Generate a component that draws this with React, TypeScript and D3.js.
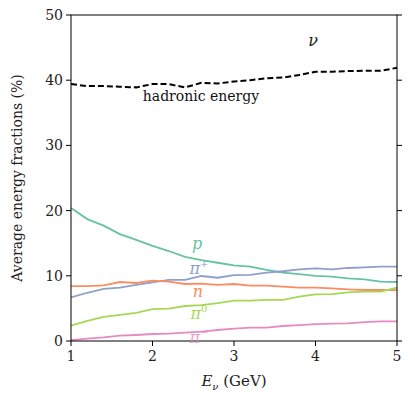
import React from 'react'
import * as d3 from 'd3'

const energies = [1, 1.2, 1.4, 1.6, 1.8, 2, 2.2, 2.4, 2.6, 2.8, 3, 3.2, 3.4, 3.6, 3.8, 4, 4.2, 4.4, 4.6, 4.8, 5]

const hadronic = [39.4, 39.1, 39.1, 39.0, 38.9, 39.4, 39.4, 38.9, 39.6, 39.5, 39.8, 40.0, 40.3, 40.4, 40.8, 41.3, 41.3, 41.4, 41.45, 41.45, 41.9]
const proton = [20.4, 18.7, 17.7, 16.4, 15.5, 14.6, 13.8, 12.9, 12.4, 12.0, 11.6, 11.4, 10.9, 10.5, 10.25, 10.0, 9.86, 9.6, 9.46, 9.1, 9.05]
const piPlus = [6.7, 7.4, 8.0, 8.2, 8.6, 9.0, 9.36, 9.36, 9.97, 9.7, 10.1, 10.15, 10.5, 10.7, 11.0, 11.15, 11.0, 11.2, 11.3, 11.4, 11.4]
const neutron = [8.43, 8.43, 8.54, 9.05, 8.9, 9.25, 9.1, 8.74, 8.8, 8.6, 8.74, 8.5, 8.5, 8.33, 8.18, 8.18, 8.08, 7.92, 7.82, 7.82, 7.8]
const piZero = [2.35, 3.1, 3.7, 4.0, 4.3, 4.9, 4.95, 5.37, 5.5, 5.8, 6.2, 6.2, 6.3, 6.3, 6.8, 7.15, 7.2, 7.45, 7.57, 7.57, 8.2]
const piMinus = [0.15, 0.36, 0.56, 0.82, 0.92, 1.07, 1.12, 1.28, 1.43, 1.69, 1.89, 2.05, 2.05, 2.3, 2.45, 2.6, 2.65, 2.7, 2.9, 3.0, 3.0]

const xTicks = [1, 2, 3, 4, 5]
const yTicks = [0, 10, 20, 30, 40, 50]

const series = [
  { name: 'p', values: proton, color: '#66c2a5' },
  { name: 'pi+', values: piPlus, color: '#8da0cb' },
  { name: 'n', values: neutron, color: '#fc8d62' },
  { name: 'pi0', values: piZero, color: '#a6d854' },
  { name: 'pi-', values: piMinus, color: '#e78ac3' },
]

const width = 415
const height = 395
const margin = { left: 71, top: 15, right: 18, bottom: 54 }
const font = "'DejaVu Serif', serif"

const x = d3.scaleLinear().domain([1, 5]).range([margin.left, width - margin.right])
const y = d3.scaleLinear().domain([0, 50]).range([height - margin.bottom, margin.top])

const line = d3
  .line<number>()
  .x((d, i) => x(energies[i]))
  .y(d => y(d))

export default function App() {
  const x0 = x.range()[0]
  const x1 = x.range()[1]
  const y0 = y.range()[0]
  const y1 = y.range()[1]
  return (
    <svg width={width} height={height} style={{ position: 'absolute', left: 0, top: 0 }} fontFamily={font}>
      <rect width={width} height={height} fill="white" />

      {series.map(s => (
        <path key={s.name} d={line(s.values) || ''} fill="none" stroke={s.color} strokeWidth={1.8} />
      ))}
      <path d={line(hadronic) || ''} fill="none" stroke="black" strokeWidth={2} strokeDasharray="6,3" />

      {/* frame */}
      <rect x={x0} y={y1} width={x1 - x0} height={y0 - y1} fill="none" stroke="black" strokeWidth={1} />

      {yTicks.map(t => (
        <g key={t}>
          <line x1={x0 - 5} x2={x0} y1={y(t)} y2={y(t)} stroke="black" />
          <line x1={x1} x2={x1 + 5} y1={y(t)} y2={y(t)} stroke="black" />
          <text x={x0 - 8} y={y(t) + 5} textAnchor="end" fontSize={14} fill="#222">
            {t}
          </text>
        </g>
      ))}
      {xTicks.map(t => (
        <g key={t}>
          <line x1={x(t)} x2={x(t)} y1={y0} y2={y0 + 5} stroke="black" />
          <text x={x(t)} y={y0 + 20} textAnchor="middle" fontSize={14} fill="#222">
            {t}
          </text>
        </g>
      ))}

      <text
        transform={`translate(22, ${(y0 + y1) / 2}) rotate(-90)`}
        textAnchor="middle"
        fontSize={14}
        fill="#222"
      >
        Average energy fractions (%)
      </text>
      <text x={(x0 + x1) / 2} y={386} textAnchor="middle" fontSize={15} fill="#222">
        <tspan fontStyle="italic">E</tspan>
        <tspan fontStyle="italic" fontSize={10} dy={4}>ν</tspan>
        <tspan dy={-4}> (GeV)</tspan>
      </text>

      <text x={313} y={46} fontSize={16} fontStyle="italic" textAnchor="middle" fill="#222">ν</text>
      <text x={201} y={101} fontSize={14} textAnchor="middle" fill="#111">hadronic energy</text>

      <text x={197} y={249} fontSize={16} fontStyle="italic" textAnchor="middle" fill="#66c2a5">p</text>
      <text x={199} y={274} fontSize={16} fontStyle="italic" textAnchor="middle" fill="#8da0cb">
        π<tspan fontSize={10} dy={-7}>+</tspan>
      </text>
      <text x={198} y={297} fontSize={16} fontStyle="italic" textAnchor="middle" fill="#fc8d62">n</text>
      <text x={199} y={319} fontSize={16} fontStyle="italic" textAnchor="middle" fill="#a6d854">
        π<tspan fontSize={10} dy={-7} fontStyle="normal">0</tspan>
      </text>
      <text x={199} y={343} fontSize={16} fontStyle="italic" textAnchor="middle" fill="#e78ac3" opacity={0.8}>
        π<tspan fontSize={10} dy={-7}>−</tspan>
      </text>
    </svg>
  )
}
